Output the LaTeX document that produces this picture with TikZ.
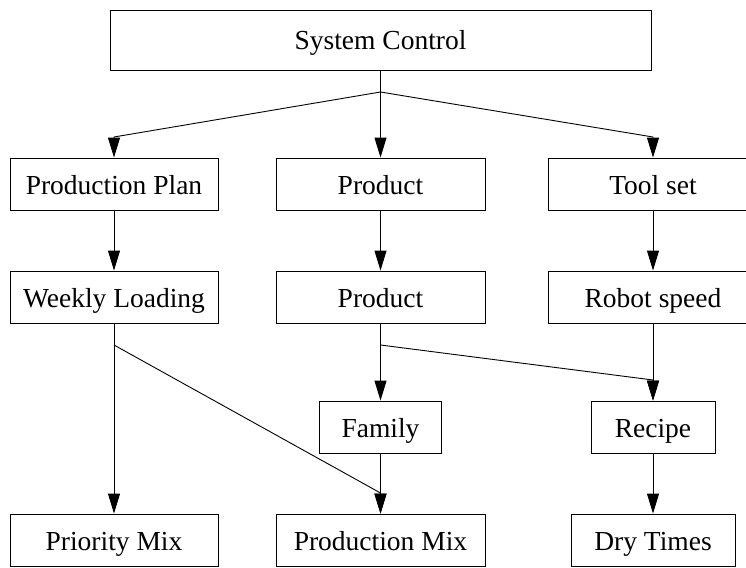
\documentclass[tikz,border=0pt]{standalone}
\usepackage{fontspec}
\setmainfont{Liberation Serif}
\usetikzlibrary{arrows.meta}
\begin{document}
\begin{tikzpicture}[x=1pt,y=-1pt,
  box/.style={draw,line width=0.9pt,inner sep=0pt,minimum height=52pt,text height=26pt,text depth=6pt,font=\fontsize{27.5}{30}\selectfont},
  conn/.style={line width=0.9pt},
  arr/.style={line width=0.9pt,-{Triangle[length=20pt,width=12pt]}}]
\useasboundingbox (0,0) rectangle (746,567);
\node[box,minimum width=541pt,minimum height=60pt] (sys) at (380.5,40) {System Control};
\node[box,minimum width=208pt] (pp) at (114,184) {Production Plan};
\node[box,minimum width=209pt] (prod1) at (380.5,184) {Product};
\node[box,minimum width=209pt] (tool) at (653,184) {Tool set};
\node[box,minimum width=208pt] (wl) at (114,297) {Weekly Loading};
\node[box,minimum width=209pt] (prod2) at (380.5,297) {Product};
\node[box,minimum width=209pt] (robot) at (653,297) {Robot speed};
\node[box,minimum width=122pt] (fam) at (380.5,427) {Family};
\node[box,minimum width=124pt] (rec) at (653,427) {Recipe};
\node[box,minimum width=208pt] (prio) at (114,540) {Priority Mix};
\node[box,minimum width=209pt] (pmix) at (380.5,540) {Production Mix};
\node[box,minimum width=164pt] (dry) at (653,540) {Dry Times};
% splits
\coordinate (s1) at (380.5,92);
\coordinate (k1) at (114,137);
\coordinate (k2) at (653,137);
\coordinate (s2) at (114,345);
\coordinate (s3) at (380.5,345);
\coordinate (k3) at (380.5,493);
\coordinate (k4) at (653,380);
\draw[conn] (sys.south) -- (s1);
\draw[arr] (s1) -- (k1) -- (pp.north);
\draw[arr] (s1) -- (prod1.north);
\draw[arr] (s1) -- (k2) -- (tool.north);
\draw[arr] (pp) -- (wl);
\draw[arr] (prod1) -- (prod2);
\draw[arr] (tool) -- (robot);
\draw[conn] (wl.south) -- (s2);
\draw[arr] (s2) -- (prio.north);
\draw[arr] (s2) -- (k3) -- (pmix.north);
\draw[arr] (fam) -- (pmix);
\draw[conn] (prod2.south) -- (s3);
\draw[arr] (s3) -- (fam.north);
\draw[arr] (s3) -- (k4) -- (rec.north);
\draw[arr] (robot) -- (rec);
\draw[arr] (rec) -- (dry);
\end{tikzpicture}
\end{document}
